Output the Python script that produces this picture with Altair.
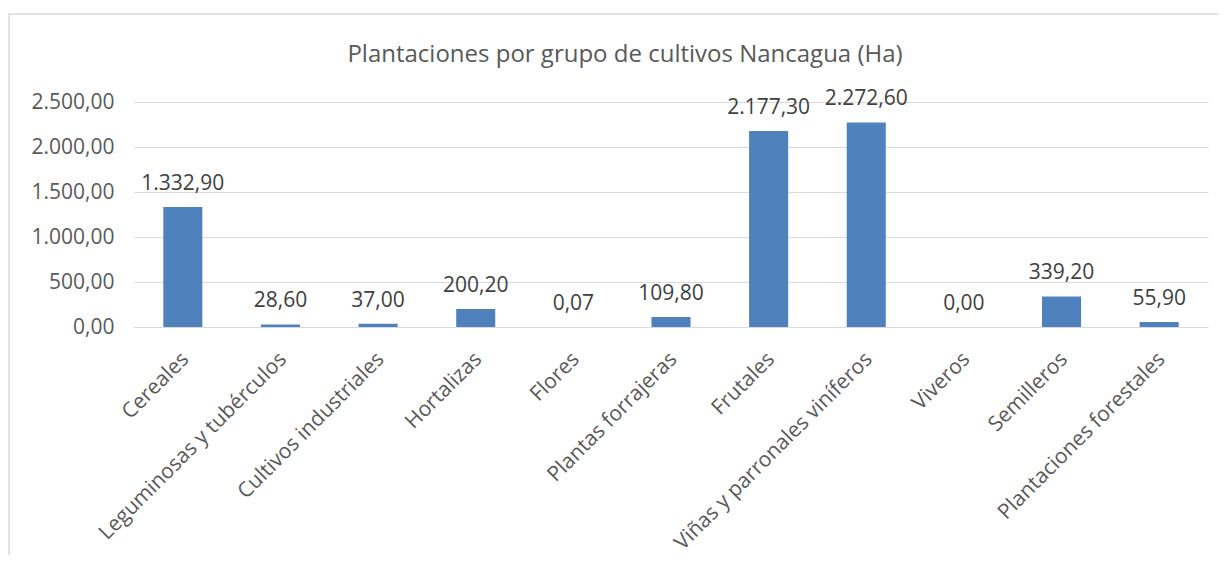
import altair as alt
import pandas as pd

categorias = ["Cereales", "Leguminosas y tubérculos", "Cultivos industriales", "Hortalizas",
              "Flores", "Plantas forrajeras", "Frutales", "Viñas y parronales viníferos",
              "Viveros", "Semilleros", "Plantaciones forestales"]
valores = [1332.90, 28.60, 37.00, 200.20, 0.07, 109.80, 2177.30, 2272.60, 0.00, 339.20, 55.90]
y_ticks = [0, 500, 1000, 1500, 2000, 2500]
titulo = "Plantaciones por grupo de cultivos Nancagua (Ha)"


def es_fmt(v):
    s = f"{v:,.2f}"
    return s.replace(",", "_").replace(".", ",").replace("_", ".")


df = pd.DataFrame({"cat": categorias, "val": valores, "lbl": [es_fmt(v) for v in valores]})

FONT = "Open Sans"
GREY = "#595959"
FS = 21

yscale = alt.Scale(domain=[0, 2500], nice=False, zero=True)

x = alt.X("cat:N", sort=categorias, title=None,
          scale=alt.Scale(paddingInner=0.6, paddingOuter=0.3),
          axis=alt.Axis(labelAngle=-45, labelFontSize=FS, labelColor=GREY, labelFont=FONT,
                        ticks=False, domainColor="#d9d9d9", labelPadding=21, labelOffset=-5,
                        labelLimit=400))
y = alt.Y("val:Q", title=None, scale=yscale,
          axis=alt.Axis(values=y_ticks, labelFontSize=FS, labelColor=GREY, labelFont=FONT,
                        ticks=False, domain=False, gridColor="#d9d9d9", labelPadding=20,
                        labelExpr="replace(replace(replace(format(datum.value, ',.2f'), ',', '_'), '.', ','), '_', '.')"))

bars = alt.Chart(df).mark_bar(color="#4f81bd").encode(x=x, y=y)
texts = alt.Chart(df).mark_text(dy=-23, fontSize=FS, font=FONT, color="#404040").encode(
    x=alt.X("cat:N", sort=categorias), y=alt.Y("val:Q", scale=yscale), text="lbl:N")

border = alt.Chart(pd.DataFrame({"a": [0]})).mark_rect(
    fill=None, stroke="#d9d9d9", strokeWidth=1.5, clip=False).encode(
    x=alt.value(-125), x2=alt.value(1200), y=alt.value(-88), y2=alt.value(600))

title_mark = alt.Chart(pd.DataFrame({"t": [titulo]})).mark_text(
    fontSize=24, font=FONT, color=GREY, align="center", baseline="middle").encode(
    x=alt.value(491), y=alt.value(-47), text="t:N")

chart = alt.layer(border, bars, texts, title_mark).properties(
    width=1074, height=225,
    padding={"left": 126, "top": 94, "right": 10, "bottom": 228},
    autosize=alt.AutoSizeParams(type="none"),
).configure_view(stroke=None)

chart.save("out.html", embed_options={"renderer": "svg", "actions": False})
